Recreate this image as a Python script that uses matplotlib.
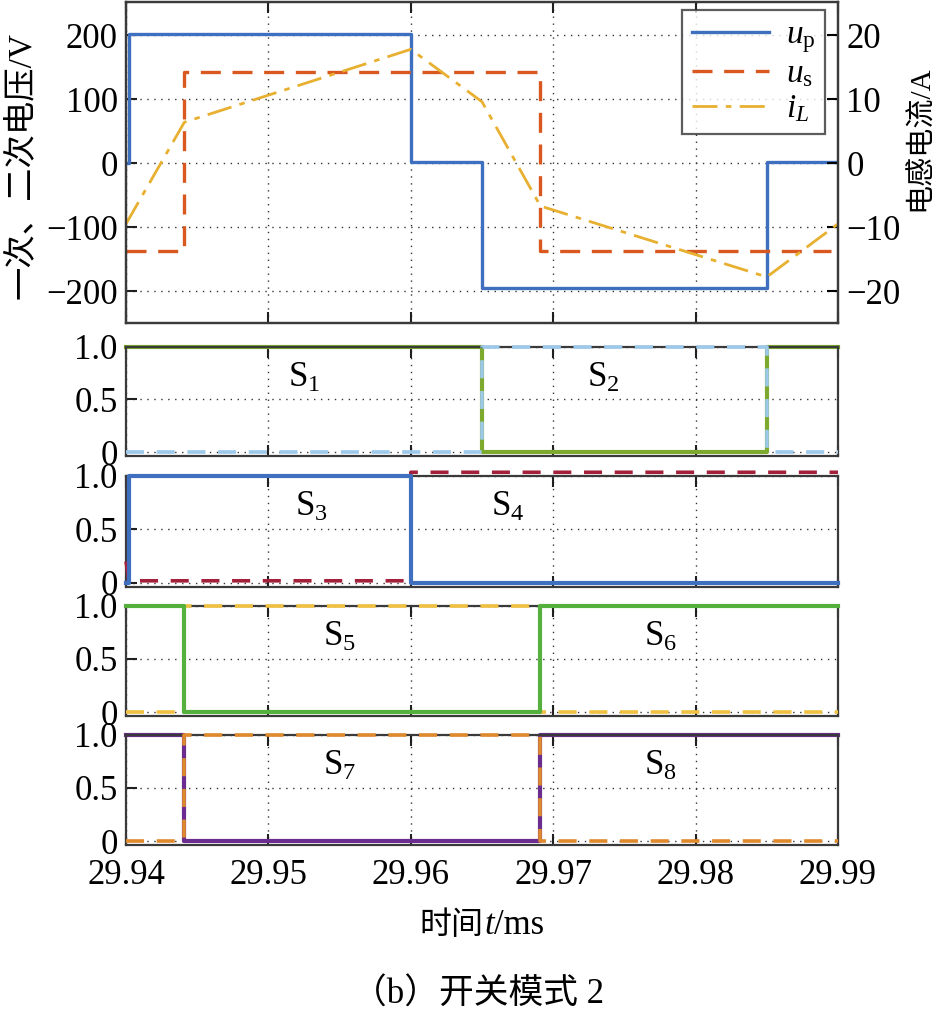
import matplotlib
matplotlib.use("Agg")
import matplotlib.pyplot as plt
import numpy as np

plt.rcParams['font.family'] = ['Liberation Serif', 'Noto Sans CJK SC', 'DejaVu Sans']
plt.rcParams['mathtext.fontset'] = 'custom'
plt.rcParams['mathtext.rm'] = 'Liberation Serif'
plt.rcParams['mathtext.it'] = 'Liberation Serif:italic'
plt.rcParams['axes.unicode_minus'] = True

# ---------------- data ----------------
t_up = [29.94, 29.9402, 29.9402, 29.96, 29.96, 29.965, 29.965, 29.985, 29.985, 29.99]
v_up = [0, 0, 202, 202, 2, 2, -196, -196, 2, 2]

t_us = [29.94, 29.9441, 29.9441, 29.9691, 29.9691, 29.9895]
v_us = [-137, -137, 143, 143, -137, -137]

t_iL = [29.94, 29.9441, 29.96, 29.965, 29.9691, 29.985, 29.99]
v_iL = [-9.5, 6.4, 17.8, 9.6, -6.7, -17.8, -9.5]

left_ticks = [-200, -100, 0, 100, 200]
right_ticks = [-20, -10, 0, 10, 20]
x_ticks = [29.94, 29.95, 29.96, 29.97, 29.98, 29.99]
x_ticklabels = ['29.94', '29.95', '29.96', '29.97', '29.98', '29.99']
s_ticks = [0, 0.5, 1.0]
s_ticklabels = ['0', '0.5', '1.0']

# switching signals
t_s12 = [29.94, 29.965, 29.965, 29.985, 29.985, 29.99]
s1 = [1, 1, 0, 0, 1, 1]
s2 = [0, 0, 1, 1, 0, 0]

t_s34 = [29.94, 29.9402, 29.9402, 29.96, 29.96, 29.99]
s3 = [0, 0, 1, 1, 0, 0]
s4 = [0.2, 0.02, 0.02, 0.02, 1.03, 1.03]

t_s58 = [29.94, 29.9441, 29.9441, 29.9691, 29.9691, 29.99]
s5 = [1, 1, 0, 0, 1, 1]
s6 = [0, 0, 1, 1, 0, 0]
s7 = [1, 1, 0, 0, 1, 1]
s8 = [0, 0, 1, 1, 0, 0]

panel_labels = [('S$_1$', 'S$_2$'), ('S$_3$', 'S$_4$'), ('S$_5$', 'S$_6$'), ('S$_7$', 'S$_8$')]
panel_label_x = [(29.9525, 29.9735), (29.953, 29.9668), (29.955, 29.9775), (29.955, 29.9775)]

# ---------------- style ----------------
c_up = '#3F6FBF'
c_us = '#D9581F'
c_iL = '#E8B030'
spine_c = '#3a3a3a'
FS = 25

fig = plt.figure(figsize=(9.45, 10.18), dpi=100)
L = 126 / 945
W = (838 - 126) / 945

def frac(ytop, ybot):
    return [L, 1 - ybot / 1018, W, (ybot - ytop) / 1018]

def style_axes(ax):
    for s in ax.spines.values():
        s.set_color(spine_c)
        s.set_linewidth(1.6)
    ax.tick_params(direction='in', length=8, width=1.5, labelsize=FS, color='#202020',
                   top=True, pad=6)
    ax.grid(True, linestyle=(0, (1, 4)), color='#333333', linewidth=1.0)
    ax.set_xlim(29.94, 29.99)
    ax.set_xticks(x_ticks)

# ---- top panel ----
ax0 = fig.add_axes(frac(2, 323))
style_axes(ax0)
ax0.set_ylim(-250, 252)
ax0.set_yticks(left_ticks)
ax0.set_yticklabels(['\u2212200', '\u2212100', '0', '100', '200'])
ax0.tick_params(axis='x', labelbottom=False)
ln1, = ax0.plot(t_up, v_up, color=c_up, lw=2.4, label=r'$u_\mathrm{p}$')
ln2, = ax0.plot(t_us, v_us, color=c_us, lw=2.4, dashes=(6, 3.5), label=r'$u_\mathrm{s}$')
ax0.set_ylabel('一次、二次电压/V', fontsize=24)
ax0.yaxis.set_label_coords(-0.125, 0.49)

ax0r = ax0.twinx()
ax0r.set_ylim(-25, 25.2)
ax0r.set_yticks(right_ticks)
ax0r.set_yticklabels(['\u221220', '\u221210', '0', '10', '20'])
ax0r.tick_params(direction='in', length=8, width=1.5, labelsize=FS, pad=6)
for s in ax0r.spines.values():
    s.set_color(spine_c)
    s.set_linewidth(1.6)
ln3, = ax0r.plot(t_iL, v_iL, color=c_iL, lw=2.0, dashes=(9, 3, 2, 3), label=r'$i_L$')
ax0r.set_ylabel('电感电流/A', fontsize=21)
ax0r.yaxis.set_label_coords(1.097, 0.575)
leg = ax0r.legend(handles=[ln1, ln2, ln3], loc='upper right', fontsize=24,
                  frameon=True, fancybox=False, edgecolor='#333333',
                  bbox_to_anchor=(0.982, 0.976), borderpad=0.3, labelspacing=0.12,
                  handlelength=2.3, handletextpad=0.5, borderaxespad=0.0)
leg.get_frame().set_linewidth(1.6)

# ---- switching panels ----
panels = [
    (frac(346.5, 456), t_s12, s1, s2, '#7DAA2E', '#9CC8EA', 2),
    (frac(475.5, 586.7), t_s34, s3, s4, c_up, '#A3203A', 4),
    (frac(605.5, 716), t_s58, s5, s6, '#55B03E', '#F0C040', 4),
    (frac(734.5, 845), t_s58, s7, s8, '#6A2C8E', '#E08A2E', 2),
]

axes = []
for i, (rect, tt, a, b, ca, cb, zs) in enumerate(panels):
    ax = fig.add_axes(rect)
    style_axes(ax)
    ax.set_ylim(-0.035, 0.985)
    ax.set_yticks(s_ticks)
    ax.set_yticklabels(s_ticklabels)
    ax.plot(tt, a, color=ca, lw=3.0, clip_on=False, zorder=zs)
    ax.plot(tt, b, color=cb, lw=2.6, dashes=(5, 3.5), clip_on=False, zorder=3)
    l1, l2 = panel_labels[i]
    x1, x2 = panel_label_x[i]
    ax.text(x1, 0.7, l1, fontsize=FS, ha='center', va='center')
    ax.text(x2, 0.7, l2, fontsize=FS, ha='center', va='center')
    if i < 3:
        ax.tick_params(axis='x', labelbottom=False)
    else:
        ax.set_xticklabels(x_ticklabels)
        ax.tick_params(axis='x', pad=10)
    axes.append(ax)

# x label: "时间" + italic t + "/ms"
axb = axes[-1]
t1 = fig.text(419 / 945, 1 - 925 / 1018, '时间', fontsize=23, ha='left', va='center',
              family=['Noto Sans CJK SC'])
t2 = axb.annotate('t', xy=(1, 0.5), xycoords=t1, xytext=(1, 0), textcoords='offset points',
                  fontsize=25, style='italic', ha='left', va='center',
                  family=['Liberation Serif'], annotation_clip=False)
t3 = axb.annotate('/ms', xy=(1, 0.5), xycoords=t2, xytext=(0, 0), textcoords='offset points',
                  fontsize=25, ha='left', va='center', family=['Liberation Serif'],
                  annotation_clip=False)

fig.text(478 / 945, 1 - 995 / 1018, '（b）开关模式 2', fontsize=25, ha='center', va='center')

fig.savefig('out.png', dpi=100)
